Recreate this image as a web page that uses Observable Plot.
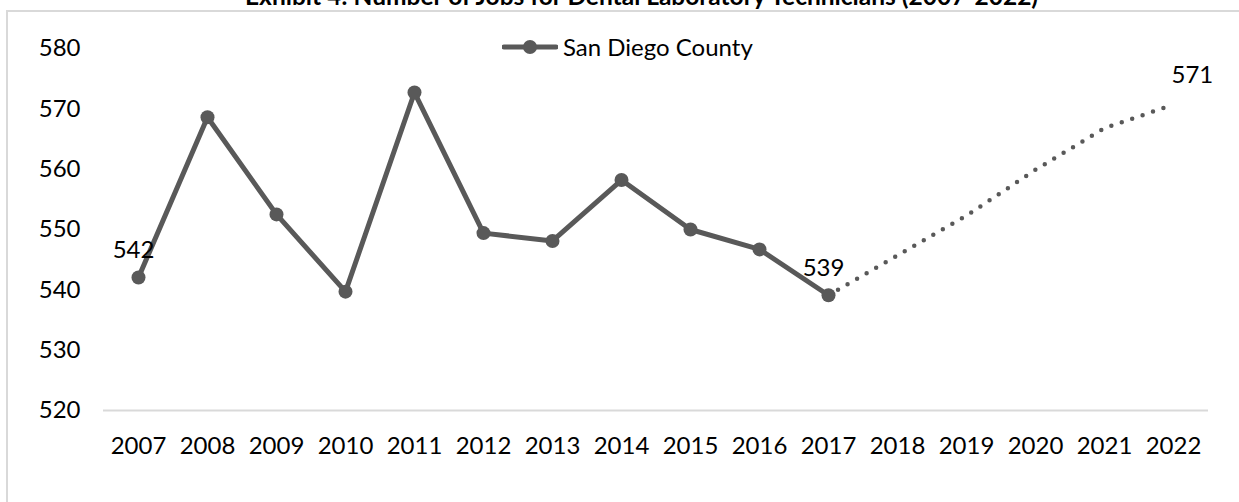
<!DOCTYPE html>
<html>
<head>
<meta charset="utf-8">
<script src="https://cdn.jsdelivr.net/npm/d3@7"></script>
<script src="https://cdn.jsdelivr.net/npm/@observablehq/plot@0.6"></script>
<style>
  html, body { margin: 0; padding: 0; background: #fff; }
  #wrap { position: relative; width: 1239px; height: 502px; overflow: hidden; font-family: Lato, "Noto Sans", sans-serif; }
  #title { position: absolute; top: -19px; left: 245px; white-space: nowrap; font-weight: bold; font-size: 24.5px; line-height: 29px; color: #000; }
  #frame { position: absolute; left: 6px; top: 10px; width: 1300px; height: 600px; border-left: 2px solid #d9d9d9; border-top: 2px solid #d9d9d9; }
  #chart { position: absolute; left: 0; top: 0; }
  #legend { position: absolute; left: 502px; top: 32px; display: flex; align-items: center; font-size: 24px; color: #000; }
  #legend svg { margin-right: 5px; }
</style>
</head>
<body>
<div id="wrap">
  <div id="title">Exhibit 4: Number of Jobs for Dental Laboratory Technicians (2007-2022)</div>
  <div id="frame"></div>
  <div id="chart"></div>
  <div id="legend"></div>
</div>
<script>
// ---- data ----
const years = [2007, 2008, 2009, 2010, 2011, 2012, 2013, 2014, 2015, 2016, 2017, 2018, 2019, 2020, 2021, 2022];
const actualYears = [2007, 2008, 2009, 2010, 2011, 2012, 2013, 2014, 2015, 2016, 2017];
const actualValues = [542.05, 568.6, 552.5, 539.7, 572.7, 549.4, 548.1, 558.2, 550.0, 546.7, 539.1];
const projYears = [2017, 2018, 2019, 2020, 2021, 2022];
const projValues = [539.1, 545.7, 552.3, 559.9, 566.8, 570.7];
const labelYears = [2007, 2017, 2022];
const labelTexts = ["542", "539", "571"];
const yTicks = [520, 530, 540, 550, 560, 570, 580];
const seriesName = "San Diego County";

const lineColor = "#595959";

const actual = actualYears.map((y, i) => ({year: y, value: actualValues[i]}));
const proj = projYears.map((y, i) => ({year: y, value: projValues[i]}));
const allPts = actual.concat(proj.slice(1));
const labels = labelYears.map((y, i) => {
  const d = allPts.find(p => p.year === y);
  return {year: y, value: d.value, text: labelTexts[i]};
});

const chart = Plot.plot({
  width: 1239,
  height: 502,
  marginLeft: 103,
  marginRight: 31,
  marginTop: 48,
  marginBottom: 92,
  style: {fontFamily: "Lato, 'Noto Sans', sans-serif", fontSize: "24px", color: "#000", background: "transparent", overflow: "visible"},
  x: {type: "point", domain: years, padding: 0.5},
  y: {domain: [520, 580]},
  marks: [
    Plot.ruleY([520], {stroke: "#d9d9d9", strokeWidth: 2}),
    Plot.axisY({ticks: yTicks, tickSize: 0, tickPadding: 23, fontSize: 24, fill: "#000", label: null}),
    Plot.axisX({tickSize: 0, tickPadding: 26, fontSize: 24, fill: "#000", label: null, tickFormat: d => String(d)}),
    Plot.line(proj, {x: "year", y: "value", stroke: lineColor, strokeWidth: 4.5, strokeDasharray: "0 11", strokeLinecap: "round"}),
    Plot.line(actual, {x: "year", y: "value", stroke: lineColor, strokeWidth: 5, strokeLinejoin: "round"}),
    Plot.dot(actual, {x: "year", y: "value", r: 7, fill: lineColor, stroke: "none"}),
    Plot.text(labels.filter(d => d.year !== 2022), {x: "year", y: "value", text: "text", dy: -27, dx: -5, fontSize: 24, fill: "#000"}),
    Plot.text(labels.filter(d => d.year === 2022), {x: "year", y: "value", text: "text", dy: -29, dx: -2, textAnchor: "start", fontSize: 24, fill: "#000"})
  ]
});
document.getElementById("chart").appendChild(chart);

// legend
const legend = document.getElementById("legend");
legend.innerHTML = `<svg width="56" height="16"><line x1="2" y1="8" x2="54" y2="8" stroke="${lineColor}" stroke-width="5" stroke-linecap="round"/><circle cx="28" cy="8" r="7" fill="${lineColor}"/></svg><span>${seriesName}</span>`;
</script>
</body>
</html>
